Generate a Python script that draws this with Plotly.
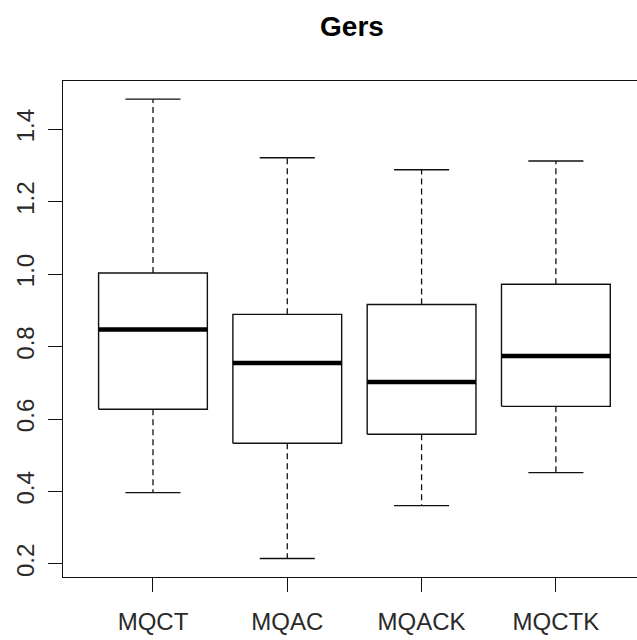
import plotly.graph_objects as go

# ---- data ----
categories = ["MQCT", "MQAC", "MQACK", "MQCTK"]
lower_whisker = [0.397, 0.215, 0.361, 0.452]
q1_values = [0.627, 0.533, 0.558, 0.635]
median_values = [0.847, 0.755, 0.702, 0.774]
q3_values = [1.003, 0.889, 0.916, 0.972]
upper_whisker = [1.483, 1.321, 1.288, 1.312]
y_tick_values = [0.2, 0.4, 0.6, 0.8, 1.0, 1.2, 1.4]
title_text = "Gers"

# ---- style ----
BOX_HALF = 0.405
CAP_HALF = 0.205
INK = "#111111"
FONT = "Liberation Sans, Arial, sans-serif"

positions = list(range(1, len(categories) + 1))

fig = go.Figure()

for pos, lo, q1, med, q3, hi in zip(positions, lower_whisker, q1_values,
                                     median_values, q3_values, upper_whisker):
    # dashed whiskers
    fig.add_trace(go.Scatter(
        x=[pos, pos, None, pos, pos], y=[q3, hi, None, q1, lo],
        mode="lines", line=dict(color=INK, width=1.3, dash="6px,4px"),
        hoverinfo="skip", showlegend=False))
    # staples
    fig.add_trace(go.Scatter(
        x=[pos - CAP_HALF, pos + CAP_HALF, None, pos - CAP_HALF, pos + CAP_HALF],
        y=[hi, hi, None, lo, lo],
        mode="lines", line=dict(color=INK, width=1.4),
        hoverinfo="skip", showlegend=False))
    # box
    fig.add_trace(go.Scatter(
        x=[pos - BOX_HALF, pos + BOX_HALF, pos + BOX_HALF, pos - BOX_HALF, pos - BOX_HALF],
        y=[q1, q1, q3, q3, q1],
        mode="lines", line=dict(color=INK, width=1.4),
        fill="toself", fillcolor="white",
        hoverinfo="skip", showlegend=False))
    # median
    fig.add_trace(go.Scatter(
        x=[pos - BOX_HALF, pos + BOX_HALF], y=[med, med],
        mode="lines", line=dict(color="#000000", width=4.5),
        hoverinfo="skip", showlegend=False))

fig.update_layout(
    width=637, height=640,
    margin=dict(l=63, r=0, t=81, b=63, autoexpand=False),
    paper_bgcolor="white", plot_bgcolor="white",
    showlegend=False,
    title=dict(text=title_text, xref="container", yref="container",
               x=352 / 637, y=1 - 26 / 640, xanchor="center", yanchor="middle",
               font=dict(family=FONT, size=28, color="#000000", weight="bold")),
    font=dict(family=FONT, size=24, color="#2a2a2a"),
)

fig.update_xaxes(
    range=[0.330, 4.604],
    tickmode="array", tickvals=positions, ticktext=categories,
    showline=True, mirror=True, linecolor=INK, linewidth=1.4,
    ticks="outside", ticklen=14, tickwidth=1.3, tickcolor=INK,
    ticklabelstandoff=9, automargin=False,
    showgrid=False, zeroline=False,
    tickfont=dict(family=FONT, size=24, color="#2a2a2a"),
)
fig.update_yaxes(
    range=[0.164, 1.533],
    tickmode="array", tickvals=y_tick_values,
    ticktext=[f"{v:.1f}" for v in y_tick_values],
    tickangle=-90,
    showline=True, mirror=False, linecolor=INK, linewidth=1.4,
    ticks="outside", ticklen=14, tickwidth=1.3, tickcolor=INK,
    ticklabelstandoff=4, automargin=False,
    showgrid=False, zeroline=False,
    tickfont=dict(family=FONT, size=24, color="#2a2a2a"),
)

fig.write_html(
    "out.html",
    config={"displayModeBar": False},
    post_script="document.body.style.margin='0';document.body.style.overflow='hidden';",
)
